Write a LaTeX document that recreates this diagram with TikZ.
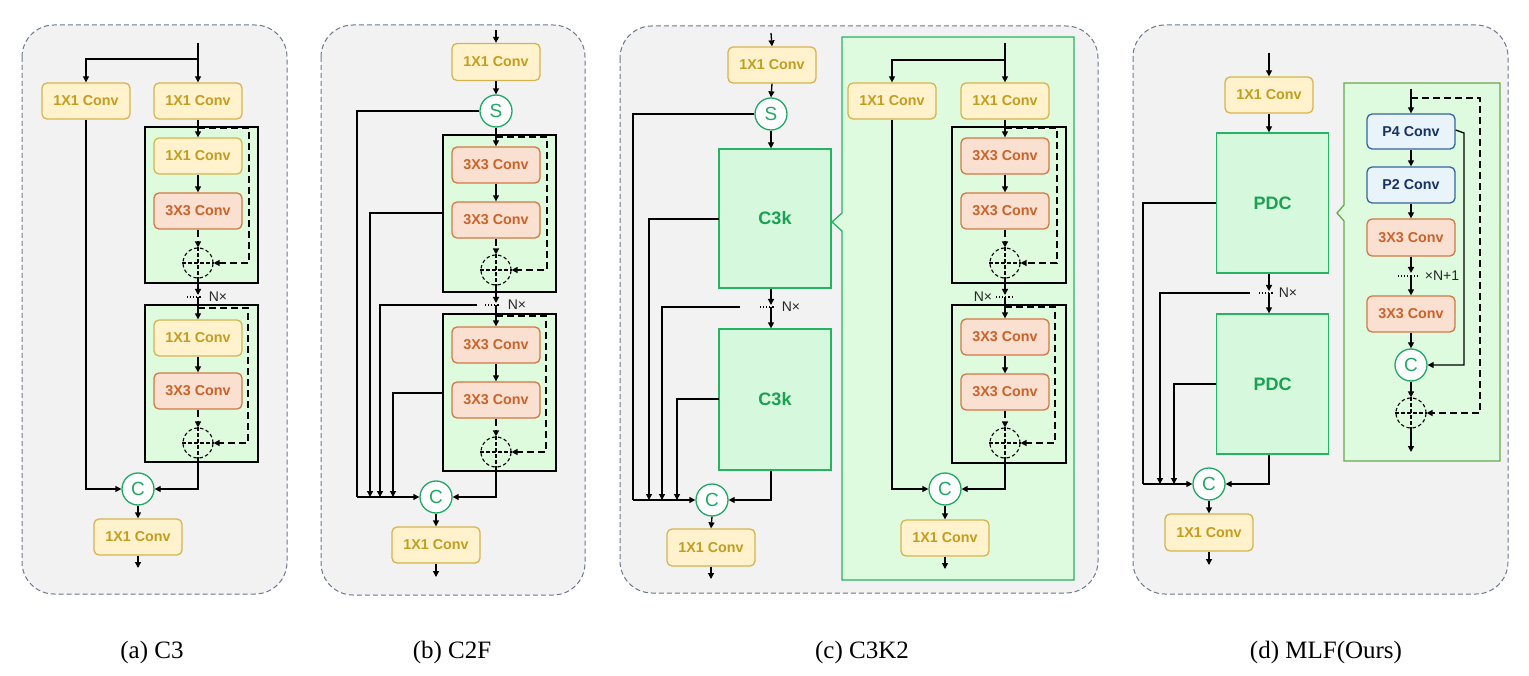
\documentclass[tikz,border=0pt]{standalone}
\usepackage{fontspec}
\setmainfont{Liberation Serif}
\setsansfont{Liberation Sans}
\usetikzlibrary{arrows.meta}
\definecolor{ybord}{RGB}{214,180,80}
\definecolor{yfill}{RGB}{255,242,204}
\definecolor{ytext}{RGB}{196,156,30}
\definecolor{obord}{RGB}{210,120,70}
\definecolor{ofill}{RGB}{250,224,208}
\definecolor{otext}{RGB}{204,98,42}
\definecolor{bbord}{RGB}{52,100,160}
\definecolor{bfill}{RGB}{232,244,250}
\definecolor{btext}{RGB}{25,50,100}
\definecolor{blkfill}{RGB}{222,251,222}
\definecolor{gbord}{RGB}{40,178,100}
\definecolor{gfill}{RGB}{214,248,220}
\definecolor{gfillb}{RGB}{222,251,224}
\definecolor{gtext}{RGB}{24,162,82}
\definecolor{cgreen}{RGB}{30,170,100}
\definecolor{olivebord}{RGB}{106,168,79}
\definecolor{pbg}{RGB}{242,242,242}
\definecolor{pgray}{RGB}{110,120,140}
\newcommand\pcross[1]{\draw[dcross] (#1.north) -- (#1.south) (#1.west) -- (#1.east);}
\begin{document}
\begin{tikzpicture}[x=1pt,y=-1pt,
 lw/.style={line width=1.3pt},
 conn/.style={lw, -{Triangle[length=6pt,width=6pt]}},
 dconn/.style={lw, dash pattern=on 7pt off 4pt, -{Triangle[length=6pt,width=6pt]}},
 dcross/.style={line width=1.1pt, dash pattern=on 3.5pt off 2.5pt},
 dotln/.style={line width=1.1pt, dotted},
 base/.style={rounded corners=5pt, line width=1.3pt, inner sep=0pt, minimum width=88pt, minimum height=36pt, font=\sffamily\bfseries\fontsize{14.3}{16}\selectfont},
 yconv/.style={base, draw=ybord, fill=yfill, text=ytext},
 oconv/.style={base, draw=obord, fill=ofill, text=otext},
 bconv/.style={base, draw=bbord, fill=bfill, text=btext},
 blk/.style={draw=black, fill=blkfill, line width=1.3pt, inner sep=0pt},
 bigbox/.style={draw=gbord, fill=gfill, text=gtext, line width=1.3pt, inner sep=0pt, minimum width=112pt, font=\sffamily\bfseries\fontsize{18}{20}\selectfont},
 cir/.style={circle, draw=cgreen, fill=white, text=cgreen, minimum size=32pt, inner sep=0pt, line width=1.3pt, font=\sffamily\fontsize{19}{20}\selectfont},
 dcir/.style={circle, draw=black, dash pattern=on 3.5pt off 2.5pt, line width=1.1pt, minimum size=30pt, inner sep=0pt},
 nx/.style={font=\sffamily\fontsize{14}{16}\selectfont, text=black!85, inner sep=1pt},
 panel/.style={draw=pgray, dash pattern=on 5pt off 3pt, fill=pbg, rounded corners=32pt, line width=1pt},
 captext/.style={font=\fontsize{25}{28}\selectfont}
]
\useasboundingbox (0,0) rectangle (1529,676);
\fill[white] (0,0) rectangle (1529,676);

% ================= Panel (a) =================
\draw[panel] (22,25) rectangle (287,594);
\node[blk, minimum width=113pt, minimum height=156pt] (blkA1) at (201.5,205) {};
\node[blk, minimum width=113pt, minimum height=157pt] (blkA2) at (201.5,383.5) {};
\node[yconv] (a1L) at (86,101) {1X1 Conv};
\node[yconv] (a1R) at (198,101) {1X1 Conv};
\node[yconv] (aA1c) at (198,156) {1X1 Conv};
\node[oconv] (aA1o) at (198,211) {3X3 Conv};
\node[dcir] (aA1p) at (198,263) {};
\node[yconv] (aA2c) at (198,338) {1X1 Conv};
\node[oconv] (aA2o) at (198,391) {3X3 Conv};
\node[dcir] (aA2p) at (198,443) {};
\node[cir] (aC) at (138,489) {C};
\node[yconv] (aout) at (138,537) {1X1 Conv};
\coordinate (aIn) at (198,43);
\coordinate (aJ) at (198,59);
\coordinate (aNx) at (198,297);
\coordinate (aOut) at (138,568);
\coordinate (aS1) at (198,128);
\coordinate (aS1r) at (249,128);
\coordinate (aS2) at (198,308);
\coordinate (aS2r) at (248,308);
\draw[lw] (aIn) -- (aJ);
\draw[conn] (aJ) -| (a1L.north);
\draw[conn] (aJ) -- (a1R.north);
\draw[conn] (a1R.south) -- (aA1c.north);
\draw[conn] (aA1c.south) -- (aA1o.north);
\draw[dconn] (aA1o.south) -- (aA1p.north);
\pcross{aA1p}
\draw[dconn] (aS1) -- (aS1r) |- (aA1p.east);
\draw[conn] (aA1p.south) -- ([yshift=2pt]aNx);
\draw[dotln] (187,297) -- (202,297);
\node[nx] at (218,297) {N×};
\draw[conn] (aNx) -- (aA2c.north);
\draw[conn] (aA2c.south) -- (aA2o.north);
\draw[dconn] (aA2o.south) -- (aA2p.north);
\pcross{aA2p}
\draw[dconn] (aS2) -- (aS2r) |- (aA2p.east);
\draw[conn] (a1L.south) |- (aC.west);
\draw[conn] (aA2p.south) |- (aC.east);
\draw[conn] (aC.south) -- (aout.north);
\draw[conn] (aout.south) -- (aOut);
\node[captext] (capA) at (152,652) {(a) C3};

% ================= Panel (b) =================
\draw[panel] (321,25) rectangle (585,595);
\node[blk, minimum width=113pt, minimum height=157pt] (blkB1) at (499.5,213.5) {};
\node[blk, minimum width=113pt, minimum height=157pt] (blkB2) at (499.5,392.5) {};
\node[yconv, minimum height=37pt] (b1) at (496,62) {1X1 Conv};
\node[cir] (bS) at (496,111) {S};
\node[oconv] (bB1a) at (496,165) {3X3 Conv};
\node[oconv] (bB1b) at (496,220) {3X3 Conv};
\node[dcir] (bB1p) at (496,270) {};
\node[oconv] (bB2a) at (496,345) {3X3 Conv};
\node[oconv] (bB2b) at (496,400) {3X3 Conv};
\node[dcir] (bB2p) at (496,452) {};
\node[cir] (bC) at (436,497) {C};
\node[yconv] (bout) at (436,545) {1X1 Conv};
\coordinate (bIn) at (496,30);
\coordinate (bL1) at (357,497);
\coordinate (bL2) at (370,497);
\coordinate (bL3) at (380,497);
\coordinate (bL4) at (393,497);
\coordinate (bW1) at (443,213);
\coordinate (bW2) at (443,393);
\coordinate (bNx) at (496,305);
\coordinate (bNxL) at (477,305);
\coordinate (bS1) at (496,137);
\coordinate (bS1r) at (547,137);
\coordinate (bS2) at (496,316);
\coordinate (bS2r) at (546,316);
\coordinate (bOut) at (436,577);
\draw[conn] (bIn) -- (b1.north);
\draw[conn] (b1.south) -- (bS.north);
\draw[lw] (bS.west) -| (bL1);
\draw[conn] (bL1) -- (bC.west);
\draw[conn] (bS.south) -- (bB1a.north);
\draw[conn] (bB1a.south) -- (bB1b.north);
\draw[dconn] (bB1b.south) -- (bB1p.north);
\pcross{bB1p}
\draw[dconn] (bS1) -- (bS1r) |- (bB1p.east);
\draw[conn] (bW1) -| (bL2);
\draw[conn] (bB1p.south) -- ([yshift=2pt]bNx);
\draw[dotln] (485,305) -- (500,305);
\node[nx] at (517,305) {N×};
\draw[conn] (bNxL) -| (bL3);
\draw[conn] (bNx) -- (bB2a.north);
\draw[conn] (bB2a.south) -- (bB2b.north);
\draw[dconn] (bB2b.south) -- (bB2p.north);
\pcross{bB2p}
\draw[dconn] (bS2) -- (bS2r) |- (bB2p.east);
\draw[conn] (bW2) -| (bL4);
\draw[conn] (bB2p.south) |- (bC.east);
\draw[conn] (bC.south) -- (bout.north);
\draw[conn] (bout.south) -- (bOut);
\node[captext] (capB) at (452,652) {(b) C2F};

% ================= Panel (c) =================
\draw[panel] (620,26) rectangle (1098,593);
\node[yconv] (c1) at (772,65) {1X1 Conv};
\node[cir] (cS) at (771,114) {S};
\node[bigbox, minimum height=139pt] (cK1) at (775,218.5) {C3k};
\node[bigbox, minimum height=141pt] (cK2) at (775,399.5) {C3k};
\node[cir] (cC) at (712,500) {C};
\node[yconv, minimum height=37pt] (cout) at (711,547.5) {1X1 Conv};
\coordinate (cIn) at (771,33);
\coordinate (cL1) at (633,500);
\coordinate (cL2) at (649,500);
\coordinate (cL3) at (662,500);
\coordinate (cL4) at (677,500);
\coordinate (cW1) at (719,219);
\coordinate (cW2) at (719,399);
\coordinate (cNx) at (771,307);
\coordinate (cNxL) at (740,307);
\coordinate (cOut) at (711,579);
\draw[conn] (cIn) -- (c1.north);
\draw[conn] (c1.south) -- (cS.north);
\draw[lw] (cS.west) -| (cL1);
\draw[conn] (cL1) -- (cC.west);
\draw[conn] (cS.south) -- ([xshift=-4pt]cK1.north);
\draw[conn] (cW1) -| (cL2);
\draw[conn] ([xshift=-4pt]cK1.south) -- ([yshift=2pt]cNx);
\draw[dotln] (760,307) -- (775,307);
\node[nx] at (791,307) {N×};
\draw[conn] (cNxL) -| (cL3);
\draw[conn] (cNx) -- ([xshift=-4pt]cK2.north);
\draw[conn] (cW2) -| (cL4);
\draw[conn] ([xshift=-4pt]cK2.south) |- (cC.east);
\draw[conn] (cC.south) -- (cout.north);
\draw[conn] (cout.south) -- (cOut);
% expanded C3k
\draw[draw=gbord, fill=gfillb, line width=1.3pt] (842,37) -- (1074,37) -- (1074,580) -- (842,580) -- (842,231) -- (832,222) -- (842,213) -- cycle;
\node[blk, minimum width=114pt, minimum height=156pt] (blkC1) at (1009,205) {};
\node[blk, minimum width=114pt, minimum height=158pt] (blkC2) at (1009,384) {};
\node[yconv] (c2L) at (892,101) {1X1 Conv};
\node[yconv] (c2R) at (1005,101) {1X1 Conv};
\node[oconv] (cB1a) at (1005,156) {3X3 Conv};
\node[oconv] (cB1b) at (1005,211) {3X3 Conv};
\node[dcir] (cB1p) at (1005,263) {};
\node[oconv] (cB2a) at (1005,337) {3X3 Conv};
\node[oconv] (cB2b) at (1005,392) {3X3 Conv};
\node[dcir] (cB2p) at (1005,443) {};
\node[cir] (cC2) at (945,489) {C};
\node[yconv] (cout2) at (945,538) {1X1 Conv};
\coordinate (c2In) at (1005,43);
\coordinate (c2J) at (1005,60);
\coordinate (c2Nx) at (1005,297);
\coordinate (cS3) at (1005,128);
\coordinate (cS3r) at (1057,128);
\coordinate (cS4) at (1005,307);
\coordinate (cS4r) at (1055,307);
\coordinate (cOut2) at (945,569);
\draw[lw] (c2In) -- (c2J);
\draw[conn] (c2J) -| (c2L.north);
\draw[conn] (c2J) -- (c2R.north);
\draw[conn] (c2R.south) -- (cB1a.north);
\draw[conn] (cB1a.south) -- (cB1b.north);
\draw[dconn] (cB1b.south) -- (cB1p.north);
\pcross{cB1p}
\draw[dconn] (cS3) -- (cS3r) |- (cB1p.east);
\draw[conn] (cB1p.south) -- ([yshift=2pt]c2Nx);
\draw[dotln] (996,297) -- (1014,297);
\node[nx] at (983,297) {N×};
\draw[conn] (c2Nx) -- (cB2a.north);
\draw[conn] (cB2a.south) -- (cB2b.north);
\draw[dconn] (cB2b.south) -- (cB2p.north);
\pcross{cB2p}
\draw[dconn] (cS4) -- (cS4r) |- (cB2p.east);
\draw[conn] (c2L.south) |- (cC2.west);
\draw[conn] (cB2p.south) |- (cC2.east);
\draw[conn] (cC2.south) -- (cout2.north);
\draw[conn] (cout2.south) -- (cOut2);
\node[captext] (capC) at (862,652) {(c) C3K2};

% ================= Panel (d) =================
\draw[panel] (1133,25) rectangle (1508,594);
\node[yconv] (d1) at (1269,95) {1X1 Conv};
\node[bigbox, minimum height=140pt] (dP1) at (1272.5,203) {PDC};
\node[bigbox, minimum height=140pt] (dP2) at (1272.5,384) {PDC};
\node[cir] (dC) at (1209,484) {C};
\node[yconv, minimum height=37pt] (dout) at (1209,532.5) {1X1 Conv};
\coordinate (dIn) at (1269,53);
\coordinate (dL1) at (1143,484);
\coordinate (dL2) at (1160,484);
\coordinate (dL3) at (1174,484);
\coordinate (dW1) at (1216,203);
\coordinate (dW2) at (1216,384);
\coordinate (dNx) at (1269,293);
\coordinate (dNxL) at (1250,293);
\coordinate (dOut) at (1209,565);
\draw[conn] (dIn) -- (d1.north);
\draw[conn] (d1.south) -- ([xshift=-3.5pt]dP1.north);
\draw[lw] (dW1) -| (dL1);
\draw[conn] (dL1) -- (dC.west);
\draw[conn] ([xshift=-3.5pt]dP1.south) -- ([yshift=2pt]dNx);
\draw[dotln] (1259,293) -- (1273,293);
\node[nx] at (1288,293) {N×};
\draw[conn] (dNxL) -| (dL2);
\draw[conn] (dNx) -- ([xshift=-3.5pt]dP2.north);
\draw[conn] (dW2) -| (dL3);
\draw[conn] ([xshift=-3.5pt]dP2.south) |- (dC.east);
\draw[conn] (dC.south) -- (dout.north);
\draw[conn] (dout.south) -- (dOut);
% expanded PDC
\draw[draw=olivebord, fill=gfillb, line width=1.3pt] (1344,83) -- (1500,83) -- (1500,461) -- (1344,461) -- (1344,221) -- (1337,213) -- (1344,205) -- cycle;
\node[bconv, minimum height=35pt] (dp4) at (1411,131.5) {P4 Conv};
\node[bconv] (dp2) at (1411,185) {P2 Conv};
\node[oconv, minimum height=37pt] (dd1) at (1411,237.5) {3X3 Conv};
\node[oconv] (dd2) at (1411,314) {3X3 Conv};
\node[cir] (dC2) at (1411,365) {C};
\node[dcir] (dPl) at (1411,413) {};
\coordinate (dIn2) at (1411,89);
\coordinate (dS) at (1411,98);
\coordinate (dSr) at (1480,98);
\coordinate (dR) at (1464,133);
\coordinate (dNx2) at (1411,276);
\coordinate (dOut2) at (1411,452);
\draw[conn] (dIn2) -- (dp4.north);
\draw[dconn] (dS) -- (dSr) |- (dPl.east);
\draw[conn] ([yshift=1.5pt]dp4.east) -- (dR) |- (dC2.east);
\draw[conn] (dp4.south) -- (dp2.north);
\draw[conn] (dp2.south) -- (dd1.north);
\draw[conn] (dd1.south) -- ([yshift=3pt]dNx2);
\draw[dotln] (1398,276) -- (1417,276);
\node[nx] at (1442,276) {×N+1};
\draw[conn] (dNx2) -- (dd2.north);
\draw[conn] (dd2.south) -- (dC2.north);
\draw[conn] (dC2.south) -- (dPl.north);
\pcross{dPl}
\draw[conn] (dPl.south) -- (dOut2);
\node[captext] (capD) at (1326,652) {(d) MLF(Ours)};
\end{tikzpicture}
\end{document}
